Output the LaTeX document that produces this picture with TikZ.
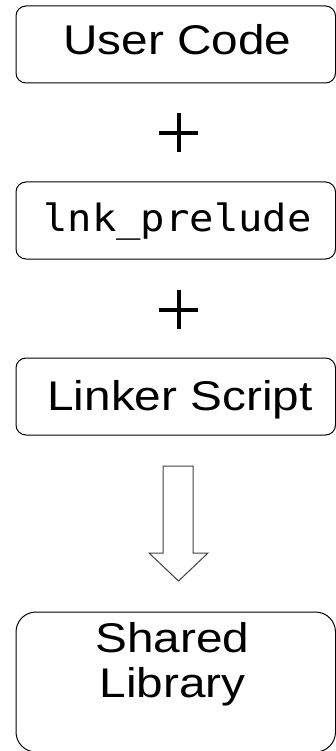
\documentclass[tikz,border=0pt]{standalone}
\usepackage{fontspec}
\usepackage{graphicx}
\setmainfont{Liberation Sans}
\newfontfamily\codefont{DejaVu Sans Mono}
% labels are set a little wide
\newcommand\widetext[1]{\scalebox{1.15}[1]{#1}}
\newcommand\widecode[1]{\scalebox{1.08}[1]{#1}}
\tikzset{
  stagebox/.style={draw=black, line width=1pt, rounded corners=10pt, inner sep=0pt,
                   minimum width=319.5pt, minimum height=77pt},
  stagetext/.style={anchor=base, inner sep=0pt, font=\fontsize{41.5}{45}\selectfont},
  codetext/.style={anchor=base, inner sep=0pt, font=\codefont\fontsize{37.5}{40}\selectfont},
  plusbar/.style={line width=4pt, draw=black},
  blockarrow/.style={draw=black!75, line width=1pt, fill=white, line join=miter},
}
\begin{document}
\begin{tikzpicture}[x=1pt, y=-1pt]
  \useasboundingbox (0,0) rectangle (336,751);

  % input stages
  \node[stagebox] (user) at (175.75,44.5) {};
  \node[stagetext] (usertxt) at (177.5,55) {\widetext{User Code}};

  \coordinate (plusA) at (178.5,133);
  \draw[plusbar] ([xshift=-19.5pt]plusA) -- ([xshift=19.5pt]plusA);
  \draw[plusbar] ([yshift=19.5pt]plusA) -- ([yshift=-19.5pt]plusA);

  \node[stagebox] (prelude) at (175.75,220.5) {};
  \node[codetext] (preludetxt) at (177.5,231) {\widecode{lnk\_prelude}};

  \coordinate (plusB) at (178.5,309.5);
  \draw[plusbar] ([xshift=-19.5pt]plusB) -- ([xshift=19.5pt]plusB);
  \draw[plusbar] ([yshift=19.5pt]plusB) -- ([yshift=-19.5pt]plusB);

  \node[stagebox] (linker) at (175.75,396.5) {};
  \node[stagetext] (linkertxt) at (180,410) {\widetext{Linker Script}};

  % block arrow down to the result
  \draw[blockarrow] (163,466) -- (193,466) -- (193,553) -- (208,553)
        -- (178.5,581) -- (149,553) -- (163,553) -- cycle;

  % result
  \node[stagebox, rounded corners=20pt, minimum height=140pt] (shared) at (175.75,682) {};
  \node[stagetext] (sharedtxt) at (172.5,652.5) {\widetext{Shared}};
  \node[stagetext] (librarytxt) at (172.5,697.5) {\widetext{Library}};
\end{tikzpicture}
\end{document}
